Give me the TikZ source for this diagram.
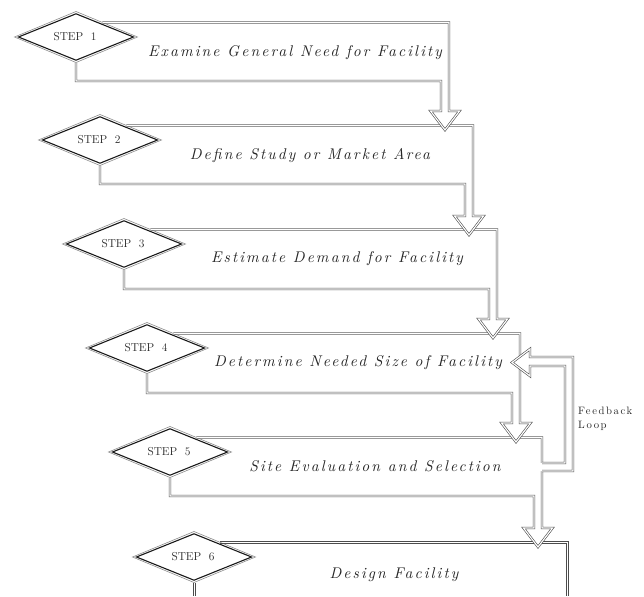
\documentclass[tikz,border=0pt]{standalone}
\usepackage{fontspec}
\newfontfamily\stepfont{lmroman10-regular.otf}[ItalicFont=lmroman10-italic.otf, LetterSpace=13.5]
\newfontfamily\loopfont{lmroman10-regular.otf}[LetterSpace=15]
\tikzset{
  frame/.style={draw=black!70, double=white, line width=0.6pt, double distance=1.15pt, line join=miter},
  thinedge/.style={draw=black!70, line width=0.6pt, line cap=butt},
  outerdia/.style={draw=black!45, line width=0.6pt, fill=white, line join=miter},
  innerdia/.style={draw=black!90, line width=1.1pt, line join=miter},
  steplabel/.style={inner sep=0pt, text=black!85, font=\fontsize{11.5}{13}\selectfont},
  stepname/.style={inner sep=0pt, anchor=base, text=black!85, font={\stepfont\itshape\fontsize{15.5}{17}\selectfont}},
  loopname/.style={inner sep=0pt, anchor=base west, text=black!85, font={\loopfont\fontsize{10.7}{13}\selectfont}},
  headfill/.style={fill=white},
}
\begin{document}
\begin{tikzpicture}[x=1pt,y=-1pt]
\useasboundingbox (0,0) rectangle (644,596);
% step diamonds: centre d, label e
\foreach \i/\cx/\cy in {1/76/37,2/100/140,3/124/244,4/147/348,5/170/452,6/194/557}{
  \coordinate (d\i) at (\cx,\cy);
  \draw[outerdia] (\cx-61.5,\cy) -- (\cx,\cy-25.5) -- (\cx+61.5,\cy) -- (\cx,\cy+25.5) -- cycle;
  \draw[innerdia] (\cx-57.5,\cy) -- (\cx,\cy-23.2) -- (\cx+57.5,\cy) -- (\cx,\cy+23.2) -- cycle;
  \node[steplabel] (e\i) at (\cx-1,\cy) {STEP~~\i};
}
% frame start p (upper right edge of diamond), bottom vertex q
\coordinate (p1) at (102.4,22.5);  \coordinate (q1) at (76,62.5);
\coordinate (p2) at (126.4,125.5); \coordinate (q2) at (100,165.5);
\coordinate (p3) at (150.4,229.5); \coordinate (q3) at (124,269.5);
\coordinate (p4) at (173.4,333.5); \coordinate (q4) at (147,373.5);
\coordinate (p5) at (196.4,437.5); \coordinate (q5) at (170,477.5);
\coordinate (p6) at (220.4,542.5); \coordinate (q6) at (194,582.5);
% top-right corners t, arrow head-base corners h, shaft bottoms b, bottom-left corners l
\coordinate (t1) at (449,22.5);  \coordinate (h1) at (449,111); \coordinate (b1) at (441,81);  \coordinate (l1) at (76,81);
\coordinate (t2) at (473,125.5); \coordinate (h2) at (473,216); \coordinate (b2) at (465,184); \coordinate (l2) at (100,184);
\coordinate (t3) at (497,229.5); \coordinate (h3) at (497,319); \coordinate (b3) at (489,289); \coordinate (l3) at (124,289);
\coordinate (t4) at (520,333.5); \coordinate (h4) at (520,423); \coordinate (b4) at (512,393); \coordinate (l4) at (147,393);
\coordinate (t5) at (542,437.5); \coordinate (h5) at (542,528); \coordinate (b5) at (534,496); \coordinate (l5) at (170,496);
% step 6 frame (runs on below the picture), drawn as pairs of thin lines
\coordinate (sixtr) at (567,542.5);
\draw[thinedge] ([yshift=1.2pt]p6) -- (568.2,541.3) -- (568.2,596);
\draw[thinedge] ([yshift=-1.2pt]p6) -- (565.8,543.7) -- (565.8,596);
\draw[thinedge] ([xshift=-1.2pt]q6) -- (192.8,596);
\draw[thinedge] ([xshift=1.2pt]q6) -- (195.2,596);
% steps 5..1 frames with block arrows
\foreach \i in {5,4,3,2,1}{
  \fill[headfill] ([xshift=10.5pt]h\i) -- ([xshift=-4pt,yshift=-19pt]h\i) -- ([xshift=-18.5pt]h\i) -- cycle;
  \draw[frame] (p\i) -- (t\i) -- (h\i) -- ([xshift=10.5pt]h\i) -- ([xshift=-4pt,yshift=-19pt]h\i)
     -- ([xshift=-18.5pt]h\i) -- ([xshift=-8pt]h\i) -- (b\i) -- (l\i) -- (q\i);
}
% feedback loop from step 5 back to step 4
\coordinate (fbin) at (542,463);
\coordinate (fbout) at (542,471);
\coordinate (fbtip) at (512,362.5);
\fill[headfill] (540,463) -- (565,463) -- (565,366) -- (530,366) -- (530,376) -- (fbtip) -- (530,349) -- (530,357) -- (573,357) -- (573,471) -- (540,471) -- cycle;
\draw[frame] (fbout) -- (573,471) -- (573,357) -- (530,357) -- (530,349) -- (fbtip) -- (530,376) -- (530,366) -- (565,366) -- (565,463) -- (fbin);
% texts
\node[stepname] (n1) at (295,56.5) {Examine General Need for Facility};
\node[stepname] (n2) at (310,160) {Define Study or Market Area};
\node[stepname] (n3) at (337,262) {Estimate Demand for Facility};
\node[stepname] (n4) at (358,366) {Determine Needed Size of Facility};
\node[stepname] (n5) at (375,471) {Site Evaluation and Selection};
\node[stepname] (n6) at (394,578) {Design Facility};
\node[loopname] (fl1) at (578,414) {Feedback};
\node[loopname] (fl2) at (578,428) {Loop};
\end{tikzpicture}
\end{document}
